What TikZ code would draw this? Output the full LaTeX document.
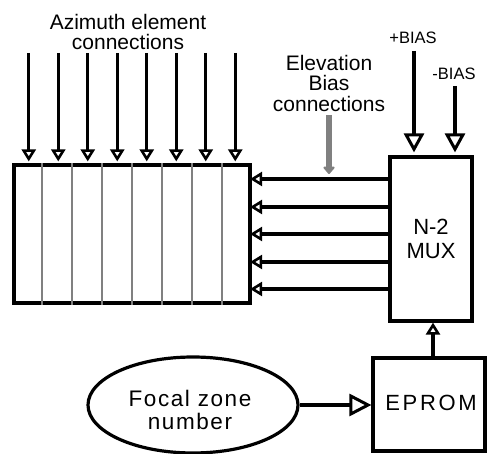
\documentclass[tikz,border=0pt]{standalone}
\usepackage{fontspec}
\setmainfont{Liberation Sans}
\newfontfamily\focfont[LetterSpace=7]{Liberation Sans}
\newfontfamily\epfont[LetterSpace=12]{Liberation Sans}
\usetikzlibrary{arrows.meta,shapes.geometric,calc}
\begin{document}
\begin{tikzpicture}[x=1pt,y=-1pt,
  lw/.style={line width=3.2pt},
  box/.style={draw,lw,rectangle,inner sep=0pt},
  lab/.style={font=\fontsize{21}{20.5}\selectfont,align=center,inner sep=0pt},
  smalllab/.style={font=\fontsize{16.5}{18}\selectfont,inner sep=0pt},
  sa/.style={lw,-{Triangle[open,length=12pt,width=14pt,line width=2.6pt]}},
  ba/.style={lw,-{Triangle[open,length=19pt,width=20pt,line width=3pt]}},
  ga/.style={line width=5.5pt,draw=black!50,-{Triangle[round,length=8pt,width=13pt,fill=black!50]}},
  divider/.style={draw=black!50,line width=2.2pt}
]
\useasboundingbox (0,0) rectangle (487,454);

% array of elements
\node[box,minimum width=236pt,minimum height=138pt] (arr) at (132,234) {};
\foreach \k in {1,...,7}{
  \draw[divider] ($(arr.north west)!\k/8!(arr.north east)$) -- ($(arr.south west)!\k/8!(arr.south east)$);
}
\node[lab] (azl) at (128,32) {Azimuth element\\connections};
\foreach \k in {1,...,8}{
  \coordinate (az\k) at ({14+29.5*(\k-0.5)},53);
  \draw[sa,shorten >=2pt] (az\k) -- (az\k |- arr.north);
}

% MUX
\node[box,minimum width=82pt,minimum height=164pt] (mux) at (431,239) {};
\node[font=\fontsize{22}{24}\selectfont,align=center,inner sep=0pt] (muxl) at (mux.center) {N-2\\MUX};
\foreach \y [count=\i] in {179,207,234,262,289}{
  \coordinate (m\i) at (390,\y);
  \draw[sa,shorten >=-1.5pt] (m\i) -- (m\i -| arr.east);
}

% bias
\node[smalllab] (pbl) at (413,38) {+BIAS};
\node[smalllab] (mbl) at (454,74) {-BIAS};
\coordinate (pb) at (414,51);
\coordinate (mb) at (455,86);
\draw[ba,shorten >=3pt] (pb) -- (pb |- mux.north);
\draw[ba,shorten >=3pt] (mb) -- (mb |- mux.north);

% elevation bias
\node[lab] (ell) at (329,83) {Elevation\\Bias\\connections};
\coordinate (eb) at (329,115);
\coordinate (ebe) at (329,174);
\draw[ga] (eb) -- (ebe);

% EPROM
\node[box,minimum width=112pt,minimum height=93pt] (eprom) at (429,404.5) {};
\node[font=\fontsize{22}{24}\selectfont\epfont,inner sep=0pt] (epl) at (431,403) {EPROM};
\coordinate (ep) at (433,358);
\draw[sa,shorten >=0pt] (ep) -- (ep |- mux.south);

% focal zone
\node[draw,lw,ellipse,minimum width=210pt,minimum height=96pt,inner sep=0pt] (foc) at (193,405) {};
\node[font=\fontsize{22.5}{23}\selectfont\focfont,align=center,inner sep=0pt] (focl) at (190,410) {Focal zone\\number};
\draw[lw,-{Triangle[open,length=22pt,width=22pt,line width=3pt]}] (foc.east) -- (eprom.west |- foc.east);
\end{tikzpicture}
\end{document}
